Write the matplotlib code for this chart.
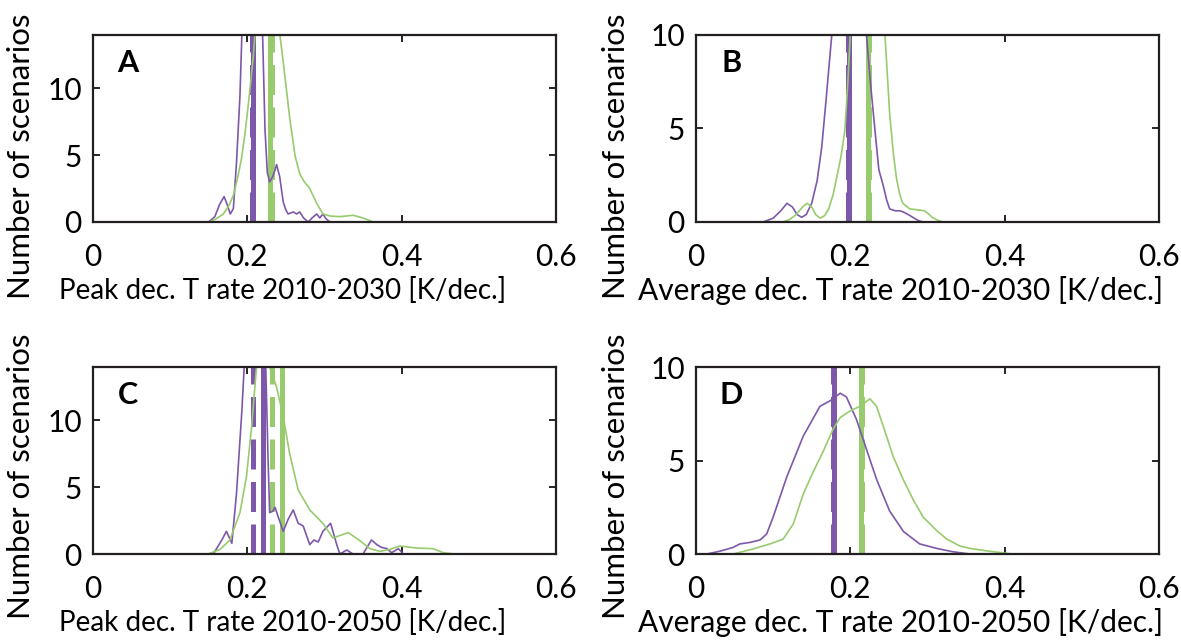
import numpy as np
import matplotlib.pyplot as plt

plt.rcParams['font.family'] = ['Lato', 'DejaVu Sans']

purple = "#7d58aa"
green = "#98cb6d"

# --- Panel A: peak rate 2010-2030 ---
a_p_x = [0.150, 0.158, 0.164, 0.170, 0.174, 0.178, 0.182, 0.186, 0.1905, 0.193, 0.197, 0.205, 0.215,
         0.2199, 0.223, 0.226, 0.229, 0.233, 0.236, 0.238, 0.242, 0.2466, 0.250, 0.253, 0.2596, 0.264,
         0.268, 0.273, 0.279, 0.284, 0.290, 0.294, 0.298, 0.302, 0.307]
a_p_y = [0.0, 0.4, 1.3, 1.9, 1.3, 0.6, 1.0, 4.4, 9.4, 14, 19, 22, 19,
         14, 6.9, 3.7, 3.0, 3.4, 3.9, 4.3, 3.4, 1.5, 0.9, 0.6, 0.75, 0.6,
         0.75, 0.3, 0.0, 0.3, 0.6, 0.3, 0.6, 0.25, 0.0]
a_g_x = [0.1516, 0.160, 0.169, 0.176, 0.182, 0.1875, 0.1927, 0.197, 0.201, 0.2077, 0.2099, 0.220, 0.232,
         0.2423, 0.2466, 0.251, 0.255, 0.2618, 0.268, 0.274, 0.281, 0.290, 0.298, 0.307, 0.320,
         0.337, 0.347, 0.3547, 0.363]
a_g_y = [0.0, 0.25, 0.6, 1.2, 2.0, 3.3, 4.8, 6.6, 8.6, 12.3, 14, 18, 18,
         14, 12.0, 9.8, 7.8, 5.0, 3.6, 3.0, 2.5, 1.4, 0.6, 0.45, 0.4,
         0.5, 0.35, 0.2, 0.0]
a_lines = {"p_dash": 0.2055, "p_solid": 0.208, "g_solid": 0.2295, "g_dash": 0.2315}

# --- Panel B: average rate 2010-2030 ---
b_p_x = [0.087, 0.100, 0.110, 0.118, 0.125, 0.131, 0.137, 0.143, 0.150, 0.157, 0.163, 0.169, 0.176,
         0.180, 0.190, 0.200, 0.210, 0.216, 0.221, 0.226, 0.232, 0.237, 0.243, 0.247, 0.251, 0.258,
         0.264, 0.268, 0.275, 0.281, 0.288, 0.294]
b_p_y = [0.0, 0.2, 0.6, 1.0, 0.8, 0.4, 0.25, 0.4, 1.0, 2.2, 4.0, 6.7, 10,
         12, 15, 16, 15, 12.5, 10, 7.5, 4.9, 2.8, 1.9, 1.2, 0.7, 0.6,
         0.6, 0.55, 0.4, 0.25, 0.08, 0.0]
b_g_x = [0.113, 0.122, 0.130, 0.138, 0.144, 0.150, 0.155, 0.161, 0.167, 0.172, 0.178, 0.182, 0.188,
         0.193, 0.197, 0.200, 0.210, 0.222, 0.235, 0.245, 0.251, 0.256, 0.260, 0.264, 0.268, 0.277,
         0.287, 0.296, 0.301, 0.306, 0.313, 0.320]
b_g_y = [0.0, 0.15, 0.4, 0.8, 1.0, 0.8, 0.4, 0.2, 0.35, 0.7, 1.5, 2.3, 3.5,
         4.9, 7.6, 10, 14, 16, 14, 10, 5.8, 3.6, 2.3, 1.5, 1.0, 0.7,
         0.65, 0.6, 0.45, 0.25, 0.1, 0.0]
b_lines = {"p_dash": 0.1975, "p_solid": 0.1985, "g_solid": 0.2235, "g_dash": 0.2245}

# --- Panel C: peak rate 2010-2050 ---
c_p_x = [0.156, 0.167, 0.173, 0.180, 0.186, 0.193, 0.196, 0.200, 0.210, 0.220, 0.224, 0.227, 0.229,
         0.233, 0.236, 0.240, 0.2466, 0.253, 0.2596, 0.266, 0.2725, 0.281, 0.2864, 0.292, 0.298,
         0.308, 0.316, 0.320, 0.329, 0.337, 0.350, 0.361, 0.368, 0.374, 0.381, 0.387, 0.396, 0.402,
         0.409]
c_p_y = [0.0, 1.05, 1.7, 0.8, 4.5, 10.7, 14, 19, 22, 19, 14, 7.0, 3.1,
         3.2, 3.5, 2.8, 1.7, 2.6, 3.3, 2.3, 2.1, 0.7, 1.05, 0.9, 1.7,
         2.3, 0.7, 0.0, 0.3, 0.0, 0.0, 1.05, 0.7, 0.5, 0.4, 0.1, 0.4, 0.0,
         0.0]
c_g_x = [0.149, 0.165, 0.1775, 0.1905, 0.199, 0.2056, 0.212, 0.218, 0.224, 0.229, 0.238, 0.2466, 0.255,
         0.266, 0.281, 0.298, 0.311, 0.321, 0.331, 0.346, 0.359, 0.372, 0.385, 0.398, 0.419,
         0.441, 0.454, 0.469]
c_g_y = [0.0, 0.35, 1.05, 3.1, 5.8, 9.5, 14, 17, 17, 14, 12.5, 10.3, 7.5,
         4.8, 3.3, 2.3, 1.2, 1.4, 1.6, 1.0, 0.4, 0.2, 0.35, 0.6, 0.45,
         0.4, 0.1, 0.0]
c_lines = {"p_dash": 0.2075, "p_solid": 0.2205, "g_dash": 0.2315, "g_solid": 0.2455}

# --- Panel D: average rate 2010-2050 ---
d_p_x = [0.014, 0.031, 0.048, 0.057, 0.070, 0.083, 0.0916, 0.100, 0.1175, 0.139, 0.1607, 0.174, 0.187,
         0.195, 0.208, 0.221, 0.234, 0.251, 0.269, 0.290, 0.312, 0.333, 0.355]
d_p_y = [0.0, 0.15, 0.35, 0.54, 0.62, 0.75, 1.07, 1.97, 4.1, 6.3, 7.9, 8.2, 8.6,
         8.4, 7.2, 5.6, 4.0, 2.3, 1.2, 0.54, 0.3, 0.12, 0.0]
d_g_x = [0.048, 0.074, 0.096, 0.113, 0.126, 0.139, 0.152, 0.165, 0.178, 0.187, 0.1996, 0.2125, 0.2255,
         0.234, 0.243, 0.2557, 0.269, 0.2816, 0.2946, 0.312, 0.325, 0.342, 0.355, 0.380, 0.410]
d_g_y = [0.0, 0.27, 0.54, 0.8, 1.6, 3.2, 4.4, 5.5, 6.7, 7.3, 7.65, 7.9, 8.3,
         7.9, 6.8, 5.2, 3.95, 2.9, 1.97, 1.25, 0.8, 0.43, 0.3, 0.15, 0.0]
d_lines = {"p_dash": 0.1775, "p_solid": 0.179, "g_solid": 0.2135, "g_dash": 0.215}

panels = [
    ("A", a_p_x, a_p_y, a_g_x, a_g_y, a_lines, 14, "Peak dec. T rate 2010-2030 [K/dec.]"),
    ("B", b_p_x, b_p_y, b_g_x, b_g_y, b_lines, 10, "Average dec. T rate 2010-2030 [K/dec.]"),
    ("C", c_p_x, c_p_y, c_g_x, c_g_y, c_lines, 14, "Peak dec. T rate 2010-2050 [K/dec.]"),
    ("D", d_p_x, d_p_y, d_g_x, d_g_y, d_lines, 10, "Average dec. T rate 2010-2050 [K/dec.]"),
]

rects = [
    [0.0787, 0.6537, 0.392, 0.2917],
    [0.5893, 0.6537, 0.392, 0.2917],
    [0.0787, 0.1357, 0.392, 0.2917],
    [0.5893, 0.1357, 0.392, 0.2917],
]
# label anchor positions (axes coords) and x-label sizes
xlab_pos = [(0.41, -0.295), (0.443, -0.29), (0.41, -0.295), (0.443, -0.29)]
xlab_fs = [20, 21.5, 20, 21.5]
ylab_pos = [(-0.125, 0.353), (-0.143, 0.353), (-0.125, 0.417), (-0.143, 0.417)]

fig = plt.figure(figsize=(11.81, 6.41), dpi=100)

for i, (rect, (letter, px, py, gx, gy, vl, ymax, xlab)) in enumerate(zip(rects, panels)):
    ax = fig.add_axes(rect)
    # vertical marker lines
    ax.axvline(vl["p_dash"], color=purple, lw=3.6, ls=(0, (6, 2.5)))
    ax.axvline(vl["p_solid"], color=purple, lw=3.6)
    ax.axvline(vl["g_dash"], color=green, lw=3.6, ls=(0, (6, 2.5)))
    ax.axvline(vl["g_solid"], color=green, lw=3.6)
    # distribution curves
    ax.plot(px, py, color=purple, lw=1.2)
    ax.plot(gx, gy, color=green, lw=1.2)

    ax.set_xlim(0, 0.6)
    ax.set_ylim(0, ymax)
    ax.set_xticks([0, 0.2, 0.4, 0.6])
    ax.set_xticklabels(["0", "0.2", "0.4", "0.6"])
    ax.set_yticks([0, 5, 10])
    ax.tick_params(direction="in", top=True, right=True, length=5, width=1.2,
                   labelsize=21.5)
    ax.tick_params(axis="x", pad=15)
    ax.tick_params(axis="y", pad=8)
    for s in ax.spines.values():
        s.set_linewidth(1.6)
        s.set_color("#231f20")
    ax.set_xlabel(xlab, fontsize=xlab_fs[i])
    ax.xaxis.set_label_coords(*xlab_pos[i])
    ax.set_ylabel("Number of scenarios", fontsize=22.5)
    ax.yaxis.set_label_coords(*ylab_pos[i])
    ax.text(0.076, 0.85, letter, transform=ax.transAxes, fontsize=22,
            fontweight="bold", ha="center", va="center")

fig.savefig("out.png", dpi=100)
